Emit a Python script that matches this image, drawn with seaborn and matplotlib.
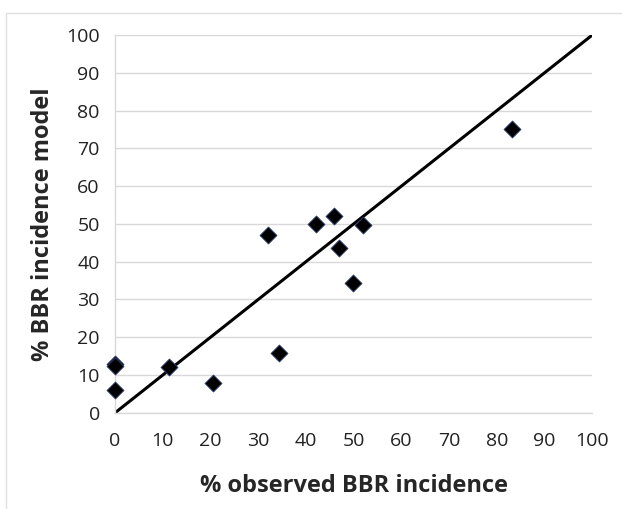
import numpy as np
import pandas as pd
import seaborn as sns
import matplotlib.pyplot as plt
from matplotlib.lines import Line2D

# observed vs modelled BBR incidence (%)
observed = [0, 0, 0, 11.2, 20.6, 32.1, 34.3, 42.1, 45.9, 47.0, 49.9, 52.0, 83.2]
model = [13.0, 12.4, 6.1, 12.2, 7.9, 47.1, 15.8, 50.0, 52.2, 43.6, 34.4, 49.7, 75.1]
one_to_one = [0, 100]
ticks = list(range(0, 101, 10))

df = pd.DataFrame({"observed": observed, "model": model})
ref = pd.DataFrame({"x": one_to_one, "y": one_to_one})

sns.set_style("white")
plt.rcParams['font.family'] = ['Open Sans', 'DejaVu Sans']

fig = plt.figure(figsize=(6.22, 5.09), dpi=100)
ax = fig.add_axes([0.185, 0.189, 0.767, 0.742])

ax.yaxis.grid(True, color="#d9d9d9", linewidth=1)
ax.set_axisbelow(True)

sns.lineplot(data=ref, x="x", y="y", color="black", linewidth=2.2, ax=ax, zorder=2)
sns.scatterplot(data=df, x="observed", y="model", marker="D", s=75, color="black",
                edgecolor="#2e3f73", linewidth=0.6, ax=ax, zorder=3, clip_on=False)

ax.set_xlim(0, 100)
ax.set_ylim(0, 100)
ax.set_xticks(ticks)
ax.set_yticks(ticks)
ax.tick_params(axis="both", which="both", direction="out", length=5, width=1,
               color="#d9d9d9", labelsize=14, labelcolor="#222222")
ax.tick_params(axis="x", pad=9)
ax.tick_params(axis="y", pad=6)
for side in ["top", "right"]:
    ax.spines[side].set_visible(False)
for side in ["left", "bottom"]:
    ax.spines[side].set_color("#d9d9d9")
    ax.spines[side].set_linewidth(1)

ax.set_xlabel("% observed BBR incidence", fontsize=17, fontweight="bold")
ax.set_ylabel("% BBR incidence model", fontsize=17, fontweight="bold")
ax.xaxis.set_label_coords(0.5, -0.163)
ax.yaxis.set_label_coords(-0.125, 0.5)

# faint chart-area border like the original
fig.add_artist(Line2D([6 / 622, 1], [1 - 13 / 509, 1 - 13 / 509], color="#e0e0e0", linewidth=1))
fig.add_artist(Line2D([6 / 622, 6 / 622], [0, 1 - 13 / 509], color="#e0e0e0", linewidth=1))

fig.savefig("out.png", dpi=100)
